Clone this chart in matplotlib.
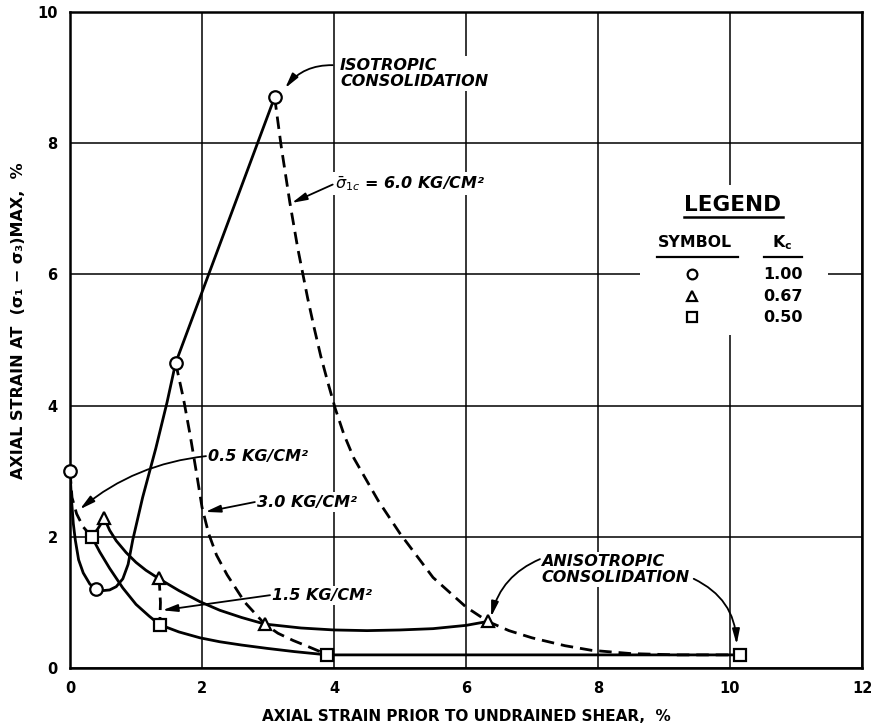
import matplotlib
matplotlib.use("Agg")
import matplotlib.pyplot as plt
from matplotlib.patches import Rectangle

# data points (markers)
circle_x = [0.0, 0.4, 1.6, 3.1]
circle_y = [3.0, 1.2, 4.65, 8.7]
tri_x = [0.52, 1.35, 2.95, 6.33]
tri_y = [2.28, 1.37, 0.67, 0.71]
sq_x = [0.33, 1.36, 3.9, 10.15]
sq_y = [2.0, 0.66, 0.2, 0.2]

# solid curves (constant Kc)
k100_x = [0.0, 0.02, 0.05, 0.08, 0.13, 0.2, 0.3, 0.4, 0.5, 0.6, 0.7, 0.8, 0.88,
          0.95, 1.1, 1.3, 1.47, 1.6, 3.1]
k100_y = [3.0, 2.6, 2.2, 1.95, 1.65, 1.45, 1.28, 1.2, 1.18, 1.19, 1.24, 1.36, 1.58,
          1.95, 2.6, 3.35, 4.05, 4.65, 8.7]
k067_x = [0.52, 0.6, 0.7, 0.85, 1.0, 1.15, 1.35, 1.65, 1.97, 2.27, 2.6, 2.95,
          3.5, 4.0, 4.5, 5.0, 5.5, 6.0, 6.33]
k067_y = [2.28, 2.1, 1.94, 1.76, 1.61, 1.49, 1.36, 1.18, 1.01, 0.88, 0.77, 0.67,
          0.61, 0.58, 0.57, 0.58, 0.6, 0.65, 0.71]
k050_x = [0.33, 0.45, 0.6, 0.8, 1.0, 1.2, 1.36, 1.65, 1.97, 2.27, 2.6, 2.98,
          3.4, 3.9, 10.15]
k050_y = [2.0, 1.77, 1.52, 1.22, 0.97, 0.79, 0.66, 0.55, 0.46, 0.4, 0.35, 0.3,
          0.25, 0.2, 0.2]

# dashed curves (constant consolidation pressure)
p05_x = [0.0, 0.03, 0.1, 0.2, 0.33, 0.42, 0.52]
p05_y = [3.0, 2.6, 2.35, 2.15, 2.0, 2.12, 2.28]
p15_x = [1.35, 1.37, 1.36]
p15_y = [1.37, 1.0, 0.66]
p30_x = [1.6, 1.72, 1.82, 1.92, 2.0, 2.1, 2.22, 2.38, 2.65, 2.95, 3.15, 3.38,
         3.6, 3.79, 3.9]
p30_y = [4.65, 4.1, 3.55, 2.95, 2.45, 2.05, 1.72, 1.42, 1.0, 0.67, 0.53, 0.42,
         0.33, 0.25, 0.2]
p60_x = [3.1, 3.2, 3.33, 3.45, 3.6, 3.7, 3.8, 3.91, 4.02, 4.15, 4.3, 4.67, 5.0,
         5.5, 6.0, 6.33, 6.65, 7.0, 7.5, 7.9, 8.5, 9.2, 10.15]
p60_y = [8.7, 7.95, 7.1, 6.4, 5.64, 5.18, 4.75, 4.34, 3.95, 3.56, 3.2, 2.55, 2.05,
         1.38, 0.93, 0.71, 0.57, 0.46, 0.34, 0.27, 0.22, 0.2, 0.2]

legend_kc = ["1.00", "0.67", "0.50"]

fig = plt.figure(figsize=(8.71, 7.28), dpi=100)
ax = fig.add_axes([0.0804, 0.0824, 0.9093, 0.9011])
ax.set_xlim(0, 12)
ax.set_ylim(0, 10)
ax.set_xticks(range(0, 13, 2))
ax.set_yticks(range(0, 11, 2))
ax.tick_params(length=0, pad=9, labelsize=10.5)
for lab in ax.get_xticklabels() + ax.get_yticklabels():
    lab.set_fontweight("bold")
ax.grid(True, color="black", lw=1.1)
ax.set_axisbelow(True)
for s in ax.spines.values():
    s.set_linewidth(1.8)

lw = 2.0
dash = (0, (4.5, 2.5))
ax.plot(k100_x, k100_y, color="black", lw=lw, zorder=3)
ax.plot(k067_x, k067_y, color="black", lw=lw, zorder=3)
ax.plot(k050_x, k050_y, color="black", lw=lw, zorder=3)
for px, py in [(p05_x, p05_y), (p15_x, p15_y), (p30_x, p30_y), (p60_x, p60_y)]:
    ax.plot(px, py, color="black", lw=lw, ls=dash, zorder=3)

mk = dict(color="black", ls="none", mfc="white", mew=1.6, zorder=5, clip_on=False)
ax.plot(circle_x, circle_y, marker="o", ms=9, **mk)
ax.plot(tri_x, tri_y, marker="^", ms=9, **mk)
ax.plot(sq_x, sq_y, marker="s", ms=8, **mk)

# annotations
tk = dict(fontsize=11.5, style="italic", fontweight="bold", va="center", ha="left",
          zorder=4, bbox=dict(facecolor="white", edgecolor="none", pad=1.5))


def arrow(start, tip, rad=0.0):
    ax.annotate("", xy=tip, xytext=start, zorder=6,
                arrowprops=dict(arrowstyle="-|>,head_length=0.9,head_width=0.22",
                                color="black", lw=1.3, shrinkA=0, shrinkB=0,
                                connectionstyle=f"arc3,rad={rad}"))


ax.text(4.09, 9.06, "ISOTROPIC\nCONSOLIDATION", linespacing=1.1, **tk)
arrow((3.98, 9.19), (3.26, 8.84), 0.25)
ax.text(4.02, 7.39, r"$\bar{\sigma}_{1c}$ = 6.0 KG/CM²", **tk)
arrow((3.98, 7.37), (3.36, 7.09))
ax.text(2.09, 3.23, "0.5 KG/CM²", **tk)
arrow((2.06, 3.23), (0.15, 2.42), 0.15)
ax.text(2.83, 2.53, "3.0 KG/CM²", **tk)
arrow((2.8, 2.53), (2.05, 2.38))
ax.text(3.06, 1.11, "1.5 KG/CM²", **tk)
arrow((3.03, 1.11), (1.4, 0.88))
ax.text(7.14, 1.5, "ANISOTROPIC\nCONSOLIDATION", linespacing=1.05, **tk)
arrow((7.12, 1.66), (6.38, 0.78), 0.25)
arrow((9.45, 1.36), (10.1, 0.36), -0.3)

# legend block
tr = ax.transAxes
ax.add_patch(Rectangle((0.72, 0.508), 0.237, 0.228, transform=tr,
                       facecolor="white", edgecolor="none", zorder=2))
ax.text(0.836, 0.706, "LEGEND", transform=tr, ha="center", va="center",
        fontsize=15.5, fontweight="bold", zorder=4)
ax.plot([0.775, 0.9], [0.6875, 0.6875], transform=tr, color="black", lw=1.8, zorder=4)
ax.text(0.789, 0.648, "SYMBOL", transform=tr, ha="center", va="center",
        fontsize=11.3, fontweight="bold", zorder=4)
ax.plot([0.741, 0.843], [0.6265, 0.6265], transform=tr, color="black", lw=1.6, zorder=4)
ax.text(0.899, 0.648, r"K$_\mathbf{c}$", transform=tr, ha="center", va="center",
        fontsize=11.3, fontweight="bold", zorder=4)
ax.plot([0.876, 0.924], [0.6265, 0.6265], transform=tr, color="black", lw=1.6, zorder=4)
leg_y = [0.6006, 0.567, 0.535]
for m, yy, kc in zip(["o", "^", "s"], leg_y, legend_kc):
    ax.plot([0.785], [yy], transform=tr, marker=m, ms=7, color="black",
            mfc="white", mew=1.6, zorder=5)
    ax.text(0.9255, yy, kc, transform=tr, ha="right", va="center",
            fontsize=11.5, fontweight="bold", zorder=4)

ax.set_xlabel("AXIAL STRAIN PRIOR TO UNDRAINED SHEAR,  %", fontsize=11,
              fontweight="bold", labelpad=10)
ax.set_ylabel("AXIAL STRAIN AT  (σ₁ − σ₃)MAX,  %", fontsize=11.5,
              fontweight="bold")
ax.yaxis.set_label_coords(-0.056, 0.53)

fig.savefig("out.png", dpi=100)
